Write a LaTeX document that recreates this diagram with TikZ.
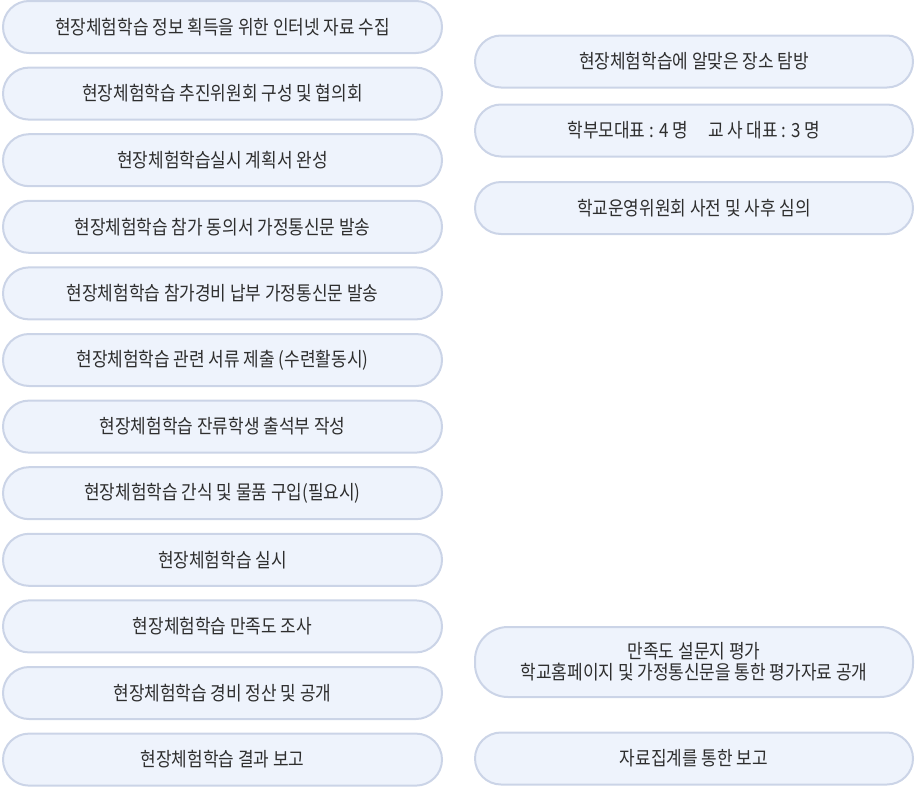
\documentclass[tikz,border=0pt]{standalone}
\usepackage{fontspec}
\setmainfont[FakeStretch=0.87]{Noto Sans CJK KR}
\usetikzlibrary{positioning}
\definecolor{boxfill}{HTML}{EEF3FC}
\definecolor{boxline}{HTML}{CBD4E7}
\definecolor{txt}{HTML}{2E2E2E}
\tikzset{
  stepbox/.style={draw=boxline, line width=2pt, fill=boxfill, rounded corners=26pt,
    minimum height=52pt, inner sep=0pt, text=txt, align=center,
    font=\fontsize{19.5}{21}\selectfont},
  lbox/.style={stepbox, minimum width=439pt},
  rbox/.style={stepbox, minimum width=438pt},
}
\begin{document}
\begin{tikzpicture}[x=1pt,y=1pt]
\useasboundingbox (0,0) rectangle (915,-787);
\node[lbox] (l1) at (222.5,-27.0) {현장체험학습 정보 획득을 위한 인터넷 자료 수집};
\node[lbox] (l2) at (222.5,-93.6) {현장체험학습 추진위원회 구성 및 협의회};
\node[lbox] (l3) at (222.5,-160.2) {현장체험학습실시 계획서 완성};
\node[lbox] (l4) at (222.5,-226.8) {현장체험학습 참가 동의서 가정통신문 발송};
\node[lbox] (l5) at (222.5,-293.4) {현장체험학습 참가경비 납부 가정통신문 발송};
\node[lbox] (l6) at (222.5,-360.0) {현장체험학습 관련 서류 제출 (수련활동시)};
\node[lbox] (l7) at (222.5,-426.6) {현장체험학습 잔류학생 출석부 작성};
\node[lbox] (l8) at (222.5,-493.2) {현장체험학습 간식 및 물품 구입(필요시)};
\node[lbox] (l9) at (222.5,-559.8) {현장체험학습 실시};
\node[lbox] (l10) at (222.5,-626.4) {현장체험학습 만족도 조사};
\node[lbox] (l11) at (222.5,-693.0) {현장체험학습 경비 정산 및 공개};
\node[lbox] (l12) at (222.5,-759.6) {현장체험학습 결과 보고};
\node[rbox] (r1) at (694,-61.5) {현장체험학습에 알맞은 장소 탐방};
\node[rbox] (r2) at (694,-130.5) {학부모대표 : 4 명\hspace{20pt}교 사 대표 : 3 명};
\node[rbox] (r3) at (694,-208) {학교운영위원회 사전 및 사후 심의};
\node[rbox, minimum height=70pt, rounded corners=33pt] (r4) at (694,-662) {만족도 설문지 평가\\학교홈페이지 및 가정통신문을 통한 평가자료 공개};
\node[rbox] (r5) at (694,-758.5) {자료집계를 통한 보고};
\end{tikzpicture}
\end{document}
